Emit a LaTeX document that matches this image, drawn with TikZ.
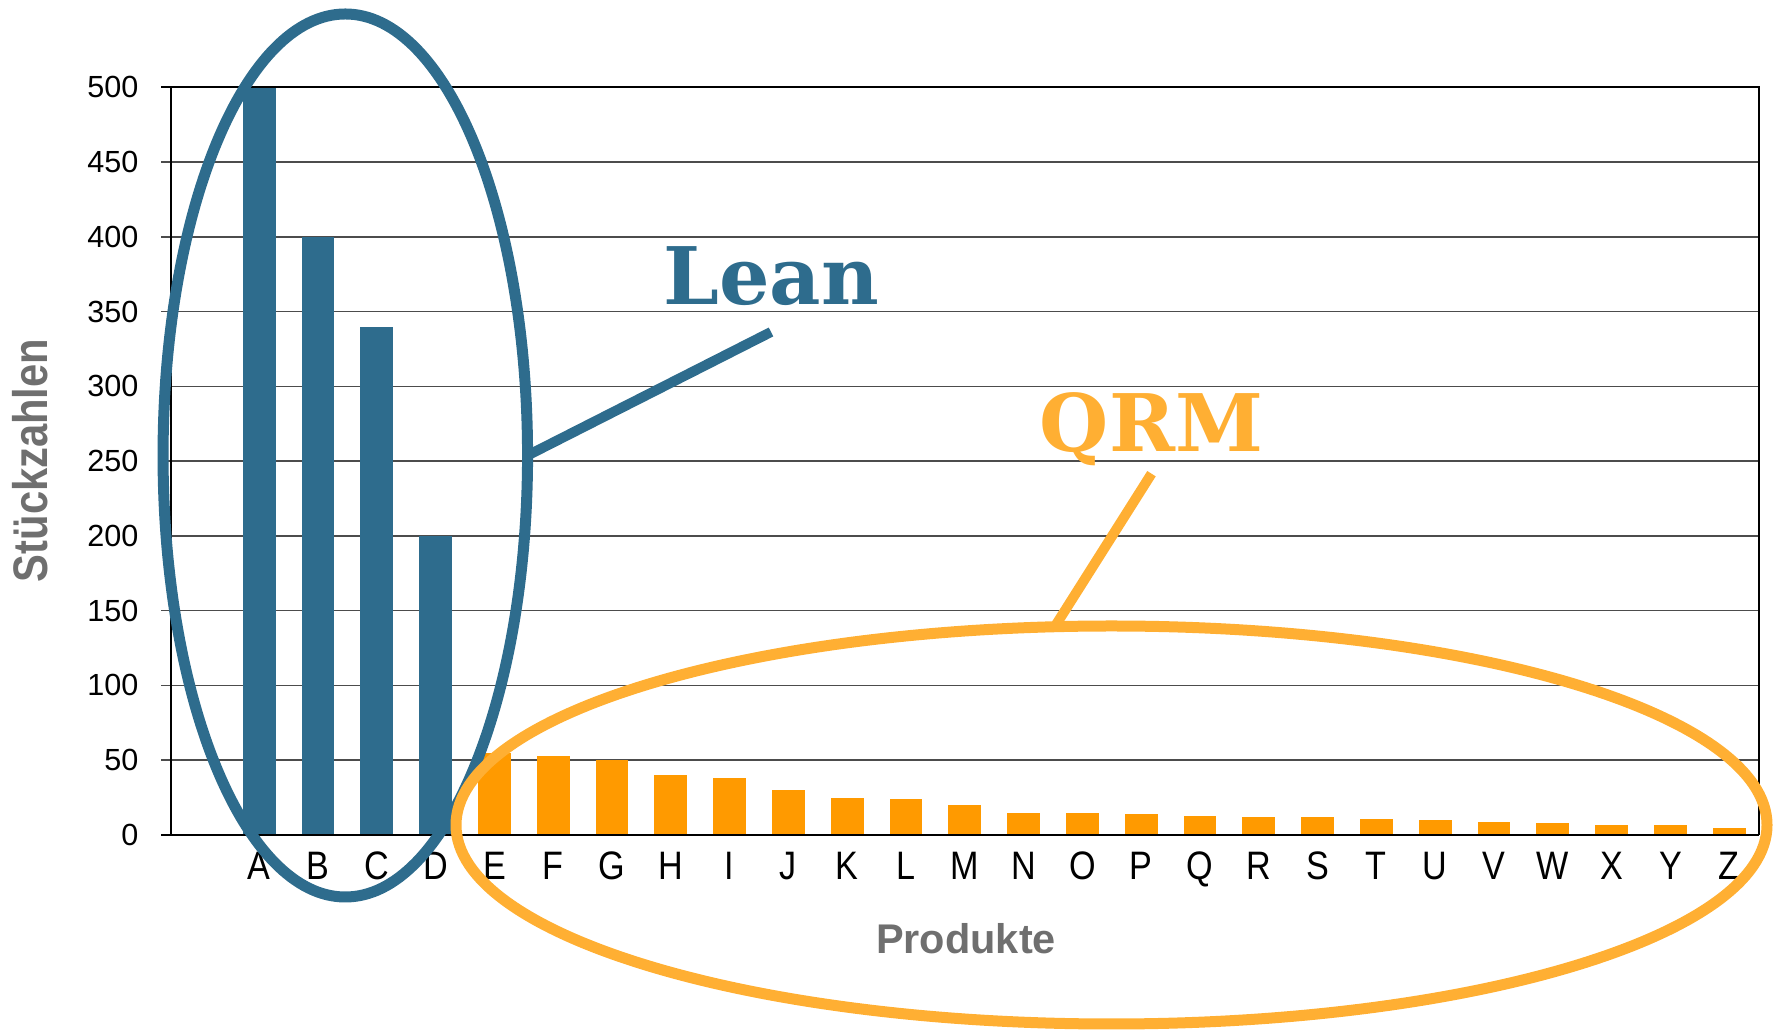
\documentclass[tikz,border=0pt]{standalone}
\usepackage{fontspec}
\setmainfont{Liberation Sans}
\newfontfamily\narrowsans[FakeStretch=0.86]{Liberation Sans}
\newfontfamily\slabserif{DejaVu Serif}
\usetikzlibrary{shapes.geometric}
\definecolor{leanblue}{HTML}{2E6C8D}
\definecolor{qrmorange}{HTML}{FFAF33}
\definecolor{barorange}{HTML}{FF9A00}
\definecolor{titlegray}{HTML}{6F6F6F}

\begin{document}
\begin{tikzpicture}[
  bluebar/.style={fill=leanblue},
  orangebar/.style={fill=barorange},
  gridline/.style={black!70, line width=0.45pt},
  frame/.style={black, line width=0.6pt},
  ylab/.style={anchor=east, xshift=-0.32cm, inner sep=0pt, font=\fontsize{8.7}{10}\selectfont},
  xlab/.style={anchor=base, inner sep=0pt, font=\fontsize{11.3}{13}\narrowsans},
  ring/.style={ellipse, draw, line width=0.11cm, inner sep=0pt, outer sep=0pt},
  tag/.style={anchor=base, inner sep=0pt, text depth=0pt, font=\fontsize{22.6}{26}\slabserif\bfseries},
  pointer/.style={line width=0.1cm}
]
\useasboundingbox (0,0) rectangle (17.73,10.31);

\begin{scope}[shift={(1.71,1.96)}, x=0.588cm, y=0.01496cm]
\draw[gridline, xstep=100, ystep=50] (-0.17,0) grid (27,500);

\fill[bluebar] (1.22,0) rectangle (1.78,500);
\fill[bluebar] (2.22,0) rectangle (2.78,400);
\fill[bluebar] (3.22,0) rectangle (3.78,340);
\fill[bluebar] (4.22,0) rectangle (4.78,200);
\fill[orangebar] (5.22,0) rectangle (5.78,55);
\fill[orangebar] (6.22,0) rectangle (6.78,53);
\fill[orangebar] (7.22,0) rectangle (7.78,50);
\fill[orangebar] (8.22,0) rectangle (8.78,40);
\fill[orangebar] (9.22,0) rectangle (9.78,38);
\fill[orangebar] (10.22,0) rectangle (10.78,30);
\fill[orangebar] (11.22,0) rectangle (11.78,25);
\fill[orangebar] (12.22,0) rectangle (12.78,24);
\fill[orangebar] (13.22,0) rectangle (13.78,20);
\fill[orangebar] (14.22,0) rectangle (14.78,15);
\fill[orangebar] (15.22,0) rectangle (15.78,15);
\fill[orangebar] (16.22,0) rectangle (16.78,14);
\fill[orangebar] (17.22,0) rectangle (17.78,13);
\fill[orangebar] (18.22,0) rectangle (18.78,12);
\fill[orangebar] (19.22,0) rectangle (19.78,12);
\fill[orangebar] (20.22,0) rectangle (20.78,11);
\fill[orangebar] (21.22,0) rectangle (21.78,10);
\fill[orangebar] (22.22,0) rectangle (22.78,9);
\fill[orangebar] (23.22,0) rectangle (23.78,8);
\fill[orangebar] (24.22,0) rectangle (24.78,7);
\fill[orangebar] (25.22,0) rectangle (25.78,7);
\fill[orangebar] (26.22,0) rectangle (26.78,5);

\draw[frame] (-0.17,500) -- (27,500) -- (27,0);
\draw[frame] (0,0) -- (0,500);
\draw[frame, line width=0.7pt] (-0.17,0) -- (27,0);

\node[ylab] (y0) at (0,0) {0};
\node[ylab] (y50) at (0,50) {50};
\node[ylab] (y100) at (0,100) {100};
\node[ylab] (y150) at (0,150) {150};
\node[ylab] (y200) at (0,200) {200};
\node[ylab] (y250) at (0,250) {250};
\node[ylab] (y300) at (0,300) {300};
\node[ylab] (y350) at (0,350) {350};
\node[ylab] (y400) at (0,400) {400};
\node[ylab] (y450) at (0,450) {450};
\node[ylab] (y500) at (0,500) {500};

\node[xlab] (pA) at (1.5,-29.6) {A};
\node[xlab] (pB) at (2.5,-29.6) {B};
\node[xlab] (pC) at (3.5,-29.6) {C};
\node[xlab] (pD) at (4.5,-29.6) {D};
\node[xlab] (pE) at (5.5,-29.6) {E};
\node[xlab] (pF) at (6.5,-29.6) {F};
\node[xlab] (pG) at (7.5,-29.6) {G};
\node[xlab] (pH) at (8.5,-29.6) {H};
\node[xlab] (pI) at (9.5,-29.6) {I};
\node[xlab] (pJ) at (10.5,-29.6) {J};
\node[xlab] (pK) at (11.5,-29.6) {K};
\node[xlab] (pL) at (12.5,-29.6) {L};
\node[xlab] (pM) at (13.5,-29.6) {M};
\node[xlab] (pN) at (14.5,-29.6) {N};
\node[xlab] (pO) at (15.5,-29.6) {O};
\node[xlab] (pP) at (16.5,-29.6) {P};
\node[xlab] (pQ) at (17.5,-29.6) {Q};
\node[xlab] (pR) at (18.5,-29.6) {R};
\node[xlab] (pS) at (19.5,-29.6) {S};
\node[xlab] (pT) at (20.5,-29.6) {T};
\node[xlab] (pU) at (21.5,-29.6) {U};
\node[xlab] (pV) at (22.5,-29.6) {V};
\node[xlab] (pW) at (23.5,-29.6) {W};
\node[xlab] (pX) at (24.5,-29.6) {X};
\node[xlab] (pY) at (25.5,-29.6) {Y};
\node[xlab] (pZ) at (26.5,-29.6) {Z};
\end{scope}

% axis titles
\node[rotate=90, anchor=base, text=titlegray, font=\fontsize{13.8}{16}\narrowsans\bfseries] (ytitle) at (0.47,5.705) {Stückzahlen};
\node[anchor=base, text=titlegray, font=\fontsize{11.8}{14}\bfseries] (xtitle) at (9.66,0.777) {Produkte};

% groups
\node[ring, leanblue, minimum width=3.645cm, minimum height=8.83cm] (leanring) at (3.453,5.755) {};
\node[ring, qrmorange, minimum width=13.11cm, minimum height=3.98cm] (qrmring) at (11.115,2.06) {};

\node[tag, leanblue, outer sep=0.27cm] (lean) at (7.71,7.26) {Lean};
\node[tag, qrmorange, outer sep=0.22cm] (qrm) at (11.515,5.793) {QRM};

\draw[pointer, leanblue] (leanring.east) -- (lean.south);
\draw[pointer, qrmorange] (qrmring.106) -- (qrm.south);
\end{tikzpicture}
\end{document}
